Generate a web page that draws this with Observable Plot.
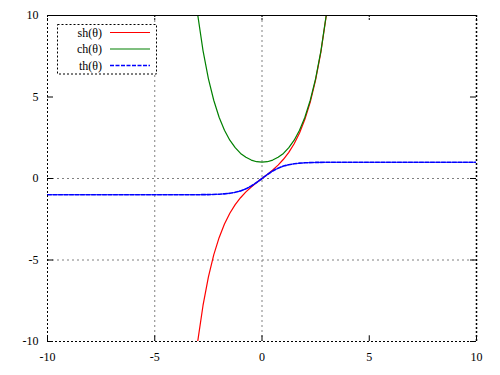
<!DOCTYPE html>
<html>
<head>
<meta charset="utf-8">
<script src="https://cdn.jsdelivr.net/npm/d3@7"></script>
<script src="https://cdn.jsdelivr.net/npm/@observablehq/plot@0.6"></script>
<style>
  html, body { margin: 0; padding: 0; background: #fff; }
  #wrap { position: relative; width: 500px; height: 375px; }
  #legend { position: absolute; left: 0; top: 0; pointer-events: none; }
</style>
</head>
<body>
<div id="wrap"></div>
<script>
// ---- data ----
const xTicks = [-10, -5, 0, 5, 10];
const yTicks = [-10, -5, 0, 5, 10];
const xTickLabels = ["-10", "-5", "0", "5", "10"];
const yTickLabels = ["-10", "-5", "0", "5", "10"];
const gridX = [-5, 0];
const gridY = [-5, 0];

const xHyp = [-3, -2.75, -2.5, -2.25, -2, -1.75, -1.5, -1.25, -1, -0.75, -0.5, -0.25, 0,
              0.25, 0.5, 0.75, 1, 1.25, 1.5, 1.75, 2, 2.25, 2.5, 2.75, 3];
const shValues = [-10.02, -7.79, -6.05, -4.69, -3.63, -2.79, -2.13, -1.60, -1.18, -0.82, -0.52, -0.25, 0,
                  0.25, 0.52, 0.82, 1.18, 1.60, 2.13, 2.79, 3.63, 4.69, 6.05, 7.79, 10.02];
const chValues = [10.07, 7.85, 6.13, 4.80, 3.76, 2.96, 2.35, 1.89, 1.54, 1.30, 1.13, 1.03, 1.0,
                  1.03, 1.13, 1.30, 1.54, 1.89, 2.35, 2.96, 3.76, 4.80, 6.13, 7.85, 10.07];
const xTh = [-10, -6, -4, -3, -2.5, -2, -1.75, -1.5, -1.25, -1, -0.75, -0.5, -0.25, 0,
             0.25, 0.5, 0.75, 1, 1.25, 1.5, 1.75, 2, 2.5, 3, 4, 6, 10];
const thValues = [-1, -1, -0.999, -0.995, -0.987, -0.964, -0.941, -0.905, -0.848, -0.762, -0.635, -0.462, -0.245, 0,
                  0.245, 0.462, 0.635, 0.762, 0.848, 0.905, 0.941, 0.964, 0.987, 0.995, 0.999, 1, 1];

const seriesNames = ["sh(θ)", "ch(θ)", "th(θ)"];
const seriesColors = ["#ff0000", "#008000", "#0000ff"];
const seriesDash = [null, null, "4,1.5"];

// ---- build ----
const sh = xHyp.map((x, i) => ({x, y: shValues[i]}));
const ch = xHyp.map((x, i) => ({x, y: chValues[i]}));
const th = xTh.map((x, i) => ({x, y: thValues[i]}));

const font = "'Liberation Serif', 'DejaVu Serif', serif";
const W = 500, H = 375;
const mL = 47, mR = 24, mT = 15, mB = 34;

const chart = Plot.plot({
  width: W, height: H,
  marginLeft: mL, marginRight: mR, marginTop: mT, marginBottom: mB,
  style: {fontFamily: font, fontSize: "12px", background: "#fff", overflow: "visible"},
  x: {domain: [-10, 10], axis: null},
  y: {domain: [-10, 10], axis: null},
  marks: [
    // grid
    Plot.ruleX(gridX, {stroke: "#808080", strokeDasharray: "2,3", strokeWidth: 1}),
    Plot.ruleY(gridY, {stroke: "#808080", strokeDasharray: "2,3", strokeWidth: 1}),
    // tick marks (inward, mirrored)
    Plot.ruleX(xTicks, {y1: -10, y2: -9.65, stroke: "#000"}),
    Plot.ruleX(xTicks, {y1: 10, y2: 9.65, stroke: "#000", strokeDasharray: "2,1"}),
    Plot.ruleY(yTicks, {x1: -10, x2: -9.72, stroke: "#000"}),
    Plot.ruleY(yTicks, {x1: 10, x2: 9.72, stroke: "#000"}),
    // curves
    Plot.line(sh, {x: "x", y: "y", stroke: seriesColors[0], strokeWidth: 1.2, clip: true}),
    Plot.line(ch, {x: "x", y: "y", stroke: seriesColors[1], strokeWidth: 1.2, clip: true}),
    Plot.line(th, {x: "x", y: "y", stroke: seriesColors[2], strokeWidth: 1.6, strokeDasharray: seriesDash[2], clip: true}),
    // border: top solid, others dotted
    Plot.ruleY([10], {stroke: "#000", strokeWidth: 1}),
    Plot.ruleY([-10], {stroke: "#000", strokeWidth: 1, strokeDasharray: "2,2"}),
    Plot.ruleX([-10], {stroke: "#000", strokeWidth: 1, strokeDasharray: "2,2"}),
    Plot.ruleX([10], {stroke: "#000", strokeWidth: 1.5, strokeDasharray: "2,2"}),
    // tick labels
    Plot.text(xTicks, {x: d => d, y: -10, text: (d, i) => xTickLabels[i], dy: 16, fill: "#000", fontSize: 12, fontFamily: font}),
    Plot.text(yTicks, {x: -10, y: d => d, text: (d, i) => yTickLabels[i], dx: -9, textAnchor: "end", fill: "#000", fontSize: 12, fontFamily: font})
  ]
});

const wrap = document.getElementById("wrap");
wrap.appendChild(chart);

// ---- legend (inside plot, top-left) ----
const lg = d3.select(wrap).append("svg")
  .attr("id", "legend").attr("width", W).attr("height", H)
  .style("font-family", font).style("font-size", "12px");
lg.append("rect")
  .attr("x", 57.5).attr("y", 24.5).attr("width", 99).attr("height", 49.5)
  .attr("fill", "#fff").attr("stroke", "#000").attr("stroke-dasharray", "2,2");
seriesNames.forEach((name, i) => {
  const y = 32.5 + i * 16.5;
  lg.append("text").attr("x", 102).attr("y", y).attr("dy", "0.35em")
    .attr("text-anchor", "end").attr("fill", "#000").text(name);
  lg.append("line").attr("x1", 110).attr("x2", 150).attr("y1", y).attr("y2", y)
    .attr("stroke", seriesColors[i]).attr("stroke-width", i === 2 ? 1.6 : 1.2)
    .attr("stroke-dasharray", seriesDash[i]);
});
</script>
</body>
</html>
